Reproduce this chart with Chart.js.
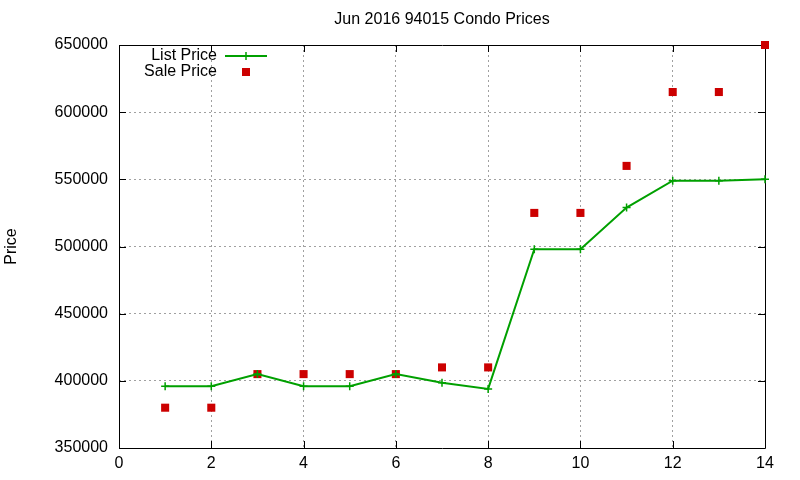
<!DOCTYPE html>
<html>
<head>
<meta charset="utf-8">
<script src="https://cdn.jsdelivr.net/npm/chart.js@4/dist/chart.umd.min.js"></script>
<style>
  html, body { margin: 0; padding: 0; background: #ffffff; }
  #wrap { width: 800px; height: 480px; }
</style>
</head>
<body>
<div id="wrap"><canvas id="c" width="800" height="480"></canvas></div>
<script>
const xValues = [1, 2, 3, 4, 5, 6, 7, 8, 9, 10, 11, 12, 13, 14];
const listPrice = [396000, 396000, 405000, 396000, 396000, 405000, 398500, 394000, 498000, 498000, 529000, 549000, 549000, 550000];
const salePrice = [380000, 380000, 405000, 405000, 405000, 405000, 410000, 410000, 525000, 525000, 560000, 615000, 615000, 650000];
const xTicks = [0, 2, 4, 6, 8, 10, 12, 14];
const yTicks = [350000, 400000, 450000, 500000, 550000, 600000, 650000];
const titleText = 'Jun 2016 94015 Condo Prices';
const yTitle = 'Price';
const seriesNames = ['List Price', 'Sale Price'];

const GREEN = '#00a000';
const RED = '#cc0000';
const FONT = 'Liberation Sans, Arial, sans-serif';
const FS = 16;

const toPts = (vals) => xValues.map((x, i) => ({ x: x, y: vals[i] }));

const framePlugin = {
  id: 'frame',
  beforeDatasetsDraw(chart) {
    const ctx = chart.ctx;
    const a = chart.chartArea;
    const xs = chart.scales.x, ys = chart.scales.y;
    ctx.save();
    ctx.strokeStyle = '#000000';
    ctx.lineWidth = 1;
    ctx.setLineDash([]);
    ctx.beginPath();
    ctx.rect(Math.round(a.left) + 0.5, Math.round(a.top) + 0.5, Math.round(a.right - a.left), Math.round(a.bottom - a.top));
    ctx.stroke();
    const tl = 7;
    ctx.beginPath();
    yTicks.forEach(v => {
      const y = Math.round(ys.getPixelForValue(v)) + 0.5;
      ctx.moveTo(a.left, y); ctx.lineTo(a.left + tl, y);
      ctx.moveTo(a.right, y); ctx.lineTo(a.right - tl, y);
    });
    xTicks.forEach(v => {
      const x = Math.round(xs.getPixelForValue(v)) + 0.5;
      ctx.moveTo(x, a.bottom); ctx.lineTo(x, a.bottom - tl);
      ctx.moveTo(x, a.top); ctx.lineTo(x, a.top + tl);
    });
    ctx.stroke();

    // legend (gnuplot style: text then sample)
    ctx.font = FS + 'px ' + FONT;
    ctx.fillStyle = '#000000';
    ctx.textAlign = 'right';
    ctx.textBaseline = 'middle';
    const tx = 217;
    const y1 = 56, y2 = 72;
    ctx.fillText(seriesNames[0], tx, y1);
    ctx.fillText(seriesNames[1], tx, y2);
    ctx.strokeStyle = GREEN;
    ctx.lineWidth = 2;
    ctx.beginPath();
    ctx.moveTo(225, y1); ctx.lineTo(267, y1);
    ctx.stroke();
    ctx.lineWidth = 1.5;
    ctx.beginPath();
    ctx.moveTo(246, y1 - 4); ctx.lineTo(246, y1 + 4);
    ctx.stroke();
    ctx.fillStyle = RED;
    ctx.fillRect(242, y2 - 4, 8, 8);
    ctx.restore();
  }
};

new Chart(document.getElementById('c'), {
  type: 'line',
  data: {
    datasets: [
      {
        label: seriesNames[0],
        data: toPts(listPrice),
        borderColor: GREEN,
        backgroundColor: GREEN,
        borderWidth: 2,
        pointStyle: 'cross',
        pointRadius: 4,
        pointBorderWidth: 1.5,
        pointBorderColor: GREEN,
        tension: 0,
        fill: false,
        clip: false
      },
      {
        label: seriesNames[1],
        data: toPts(salePrice),
        showLine: false,
        borderColor: RED,
        backgroundColor: RED,
        pointStyle: 'rect',
        pointRadius: 5.7,
        pointBorderWidth: 0,
        pointBackgroundColor: RED,
        clip: false
      }
    ]
  },
  options: {
    responsive: false,
    animation: false,
    devicePixelRatio: 1,
    layout: { padding: { left: 0, right: 35, top: 0, bottom: 0 } },
    plugins: {
      legend: { display: false },
      tooltip: { enabled: false },
      title: {
        display: true,
        text: titleText,
        fullSize: false,
        color: '#000000',
        font: { family: FONT, size: FS, weight: 'normal', lineHeight: 1.2 },
        padding: { top: 10.4, bottom: 15.4 }
      }
    },
    scales: {
      x: {
        type: 'linear',
        min: 0, max: 14,
        afterFit(s) { s.height = 32; },
        afterBuildTicks(s) { s.ticks = xTicks.map(v => ({ value: v })); },
        ticks: { color: '#000000', font: { family: FONT, size: FS }, padding: 6, maxRotation: 0, autoSkip: false },
        grid: { color: '#a0a0a0', lineWidth: 1, drawTicks: false, tickLength: 0 },
        border: { display: false, dash: [2, 3] }
      },
      y: {
        type: 'linear',
        min: 350000, max: 650000,
        afterFit(s) { s.width = 119; },
        afterBuildTicks(s) { s.ticks = yTicks.map(v => ({ value: v })); },
        ticks: { color: '#000000', font: { family: FONT, size: FS }, padding: 11, autoSkip: false,
                 callback: (v) => String(v) },
        grid: { color: '#a0a0a0', lineWidth: 1, drawTicks: false, tickLength: 0 },
        border: { display: false, dash: [2, 3] },
        title: { display: true, text: yTitle, color: '#000000', font: { family: FONT, size: FS, lineHeight: 1.2 }, padding: { top: 2.4, bottom: 0 } }
      }
    }
  },
  plugins: [framePlugin]
});
</script>
</body>
</html>
